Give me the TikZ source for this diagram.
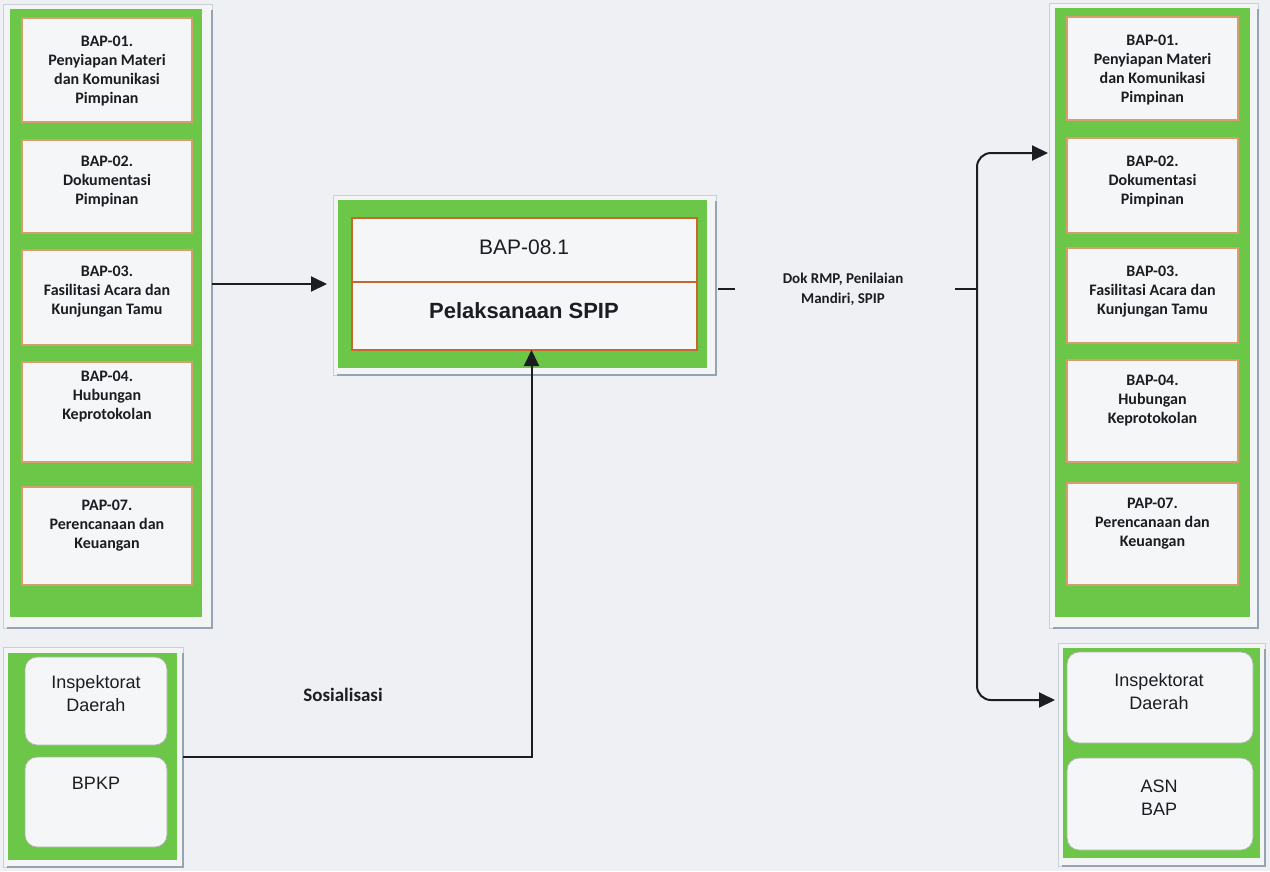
\documentclass[tikz,border=0pt]{standalone}
\usepackage{fontspec}
\setmainfont{Carlito}
\newfontfamily\arialfont{Liberation Sans}
\usetikzlibrary{arrows.meta,calc}

\definecolor{bg}{RGB}{238,240,243}
\definecolor{grn}{RGB}{108,198,72}
\definecolor{cell}{RGB}{245,246,248}
\definecolor{tanline}{RGB}{214,158,108}
\definecolor{rust}{RGB}{196,104,48}
\definecolor{frm}{RGB}{242,244,246}
\definecolor{frmline}{RGB}{200,207,214}
\definecolor{shd}{RGB}{150,163,178}
\definecolor{ink}{RGB}{28,28,34}
\definecolor{softline}{RGB}{170,180,168}

% rectangle node from its corner coordinates: name, x1, y1, x2, y2, style
\newcommand\boxat[6]{%
  \node[#6, minimum width={(#4-#2)*1pt}, minimum height={(#5-#3)*1pt}]
    (#1) at ({(#2+#4)/2},{(#3+#5)/2}) {};}

\tikzset{
  frame/.style={rectangle, fill=frm, draw=frmline, line width=0.6pt, inner sep=0pt, outer sep=0pt},
  panel/.style={rectangle, fill=grn, inner sep=0pt, outer sep=0pt},
  cellbox/.style={rectangle, fill=cell, draw=tanline, line width=1.2pt, inner sep=0pt, outer sep=0pt},
  roundcell/.style={rectangle, rounded corners=12pt, fill=cell, draw=softline, line width=0.8pt, inner sep=0pt, outer sep=0pt},
  mainbox/.style={rectangle, fill=cell, draw=rust, line width=1.4pt, inner sep=0pt, outer sep=0pt},
  smalltxt/.style={font=\bfseries\fontsize{16}{18.8}\selectfont, align=center, text=ink, inner sep=0pt, anchor=north},
  arialtxt/.style={font=\arialfont\fontsize{18}{23}\selectfont, align=center, text=ink, inner sep=0pt},
  conn/.style={draw=ink, line width=2pt},
  arr/.style={conn, -{Triangle[length=16pt,width=15pt]}},
}

% grey-blue shadow along the right and bottom of a frame
\newcommand\frameshadow[1]{%
  \draw[shd, line width=2pt] ([yshift=-6pt]#1.north east) -- (#1.south east) -- ([xshift=4pt]#1.south west);}

\begin{document}
\begin{tikzpicture}[x=1pt,y=-1pt]
\useasboundingbox (0,0) rectangle (1270,871);
\fill[bg] (0,0) rectangle (1270,871);

% ---------- left column of units ----------
\boxat{lframe}{3}{4}{212}{628}{frame}
\frameshadow{lframe}
\boxat{lpanel}{10}{9}{202}{617}{panel}
\boxat{l1}{22}{18}{192}{122}{cellbox}
\boxat{l2}{22}{140}{192}{233}{cellbox}
\boxat{l3}{22}{250}{192}{345}{cellbox}
\boxat{l4}{22}{362}{192}{462}{cellbox}
\boxat{l5}{22}{487}{192}{585}{cellbox}
\node[smalltxt] (tl1) at ($(l1.north)+(0,18)$) {BAP-01.\\Penyiapan Materi\\dan Komunikasi\\Pimpinan};
\node[smalltxt] (tl2) at ($(l2.north)+(0,16)$) {BAP-02.\\Dokumentasi\\Pimpinan};
\node[smalltxt] (tl3) at ($(l3.north)+(0,16)$) {BAP-03.\\Fasilitasi Acara dan\\Kunjungan Tamu};
\node[smalltxt] (tl4) at ($(l4.north)+(0,9)$) {BAP-04.\\Hubungan\\Keprotokolan};
\node[smalltxt] (tl5) at ($(l5.north)+(0,13)$) {PAP-07.\\Perencanaan dan\\Keuangan};

% ---------- lower left: external parties ----------
\boxat{lbframe}{3}{647}{183}{867}{frame}
\frameshadow{lbframe}
\boxat{lbpanel}{8}{653}{177}{860}{panel}
\boxat{lb1}{25}{657}{167}{745}{roundcell}
\boxat{lb2}{25}{757}{167}{847}{roundcell}
\node[arialtxt] (tlb1) at (96,694) {Inspektorat\\Daerah};
\node[arialtxt] (tlb2) at (96,783) {BPKP};

% ---------- central process ----------
\boxat{cframe}{333}{195}{716}{375}{frame}
\frameshadow{cframe}
\boxat{cgreen}{338}{200}{707}{368}{panel}
\boxat{ctop}{352}{218}{697}{282}{mainbox}
\boxat{cin}{352}{282}{697}{350}{mainbox}
\node[arialtxt, font=\arialfont\fontsize{21}{26}\selectfont] (tc1) at (524,247) {BAP-08.1};
\node[arialtxt, font=\arialfont\bfseries\fontsize{22}{26}\selectfont] (tc2) at (524,311) {Pelaksanaan SPIP};

% ---------- right column of units ----------
\boxat{rframe}{1049}{3}{1258}{628}{frame}
\frameshadow{rframe}
\boxat{rpanel}{1055}{8}{1250}{617}{panel}
\boxat{r1}{1067}{17}{1238}{120}{cellbox}
\boxat{r2}{1067}{138}{1238}{233}{cellbox}
\boxat{r3}{1067}{248}{1238}{343}{cellbox}
\boxat{r4}{1067}{360}{1238}{462}{cellbox}
\boxat{r5}{1067}{483}{1238}{585}{cellbox}
\node[smalltxt] (tr1) at ($(r1.north)+(0,18)$) {BAP-01.\\Penyiapan Materi\\dan Komunikasi\\Pimpinan};
\node[smalltxt] (tr2) at ($(r2.north)+(0,18)$) {BAP-02.\\Dokumentasi\\Pimpinan};
\node[smalltxt] (tr3) at ($(r3.north)+(0,18)$) {BAP-03.\\Fasilitasi Acara dan\\Kunjungan Tamu};
\node[smalltxt] (tr4) at ($(r4.north)+(0,15)$) {BAP-04.\\Hubungan\\Keprotokolan};
\node[smalltxt] (tr5) at ($(r5.north)+(0,15)$) {PAP-07.\\Perencanaan dan\\Keuangan};

% ---------- lower right: recipients ----------
\boxat{rbframe}{1058}{643}{1265}{866}{frame}
\frameshadow{rbframe}
\boxat{rbpanel}{1063}{648}{1260}{858}{panel}
\boxat{rb1}{1067}{652}{1253}{743}{roundcell}
\boxat{rb2}{1067}{758}{1253}{850}{roundcell}
\node[arialtxt] (trb1) at (1159,692) {Inspektorat\\Daerah};
\node[arialtxt] (trb2) at (1159,798) {ASN\\BAP};

% ---------- connectors ----------
% inputs from the units
\draw[arr, shorten >=11pt] (lframe.east |- cgreen.center) -- (cgreen.west);

% socialisation from the external parties
\draw[arr] (lbframe.east) -| ([xshift=7pt]cin.south);
\node[font=\bfseries\fontsize{19}{22}\selectfont, text=ink] (sos) at (343,695) {Sosialisasi};

% outputs to the recipients
\coordinate (split) at (977,289);
\coordinate (ytop) at (0,153);
\coordinate (ybot) at (0,700);
\draw[conn] ([xshift=2pt]cframe.east |- split) -- +(17,0);
\node[font=\bfseries\fontsize{15}{20}\selectfont, text=ink, align=center] (doc) at (843,289) {Dok RMP, Penilaian\\Mandiri, SPIP};
\draw[conn] ($(split)+(-22,0)$) -- (split);
\draw[arr, rounded corners=14pt] (split) |- ([xshift=-1pt]rframe.west |- ytop);
\draw[arr, rounded corners=14pt] (split) |- ([xshift=-3pt]rbframe.west |- ybot);
\end{tikzpicture}
\end{document}
